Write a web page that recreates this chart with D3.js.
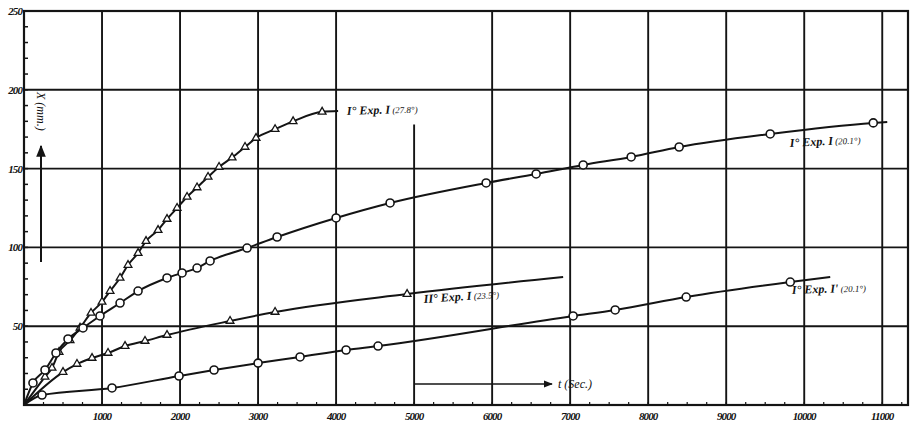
<!DOCTYPE html>
<html>
<head>
<meta charset="utf-8">
<script src="https://cdn.jsdelivr.net/npm/d3@7"></script>
<style>
  body { margin: 0; background: #fff; }
  text { font-family: "Liberation Serif", "DejaVu Serif", serif; fill: #111; }
</style>
</head>
<body>
<svg width="911" height="435"></svg>
<script>
// Tick labels
var xTicks = [1000, 2000, 3000, 4000, 5000, 6000, 7000, 8000, 9000, 10000, 11000];
var yTicks = [50, 100, 150, 200, 250];

// Curve I° Exp. I (27.8°) - triangles, steep
var aTime = [269, 359, 449, 590, 718, 859, 1000, 1103, 1231, 1333, 1462, 1564, 1718, 1833, 1962, 2090, 2218, 2359, 2500, 2667, 2833, 2974, 3218, 3449, 3821];
var aDist = [17.8, 23.5, 33.6, 41, 49, 58.4, 65.4, 72.3, 80.6, 88.8, 96.4, 104, 111, 118, 125, 132, 138, 144.7, 151, 157, 163.7, 169.4, 175, 180, 186];
var aEnd = [4026, 186.5];

// Curve I° Exp. I (20.1°) - circles, upper
var bTime = [115, 269, 410, 564, 756, 974, 1231, 1462, 1833, 2026, 2218, 2385, 2859, 3244, 4000, 4692, 5923, 6564, 7167, 7782, 8397, 9564, 10885];
var bDist = [14, 22.2, 33, 41.9, 48.9, 56.5, 64.7, 72.3, 80.6, 83.8, 86.9, 91.4, 99.6, 106.6, 118.7, 128.2, 140.9, 146.6, 152.3, 157.4, 163.7, 172, 179];
var bEnd = [11064, 179.6];

// Curve II° Exp. I (23.5°) - triangles, lower
var cTime = [500, 679, 872, 1077, 1295, 1551, 1833, 2641, 3218, 4910];
var cDist = [20.9, 26, 29.8, 33, 37.4, 40.6, 44.4, 53.3, 59, 70.4];
var cEnd = [6910, 81.2];

// Curve I° Exp. I' (20.1°) - circles, lower
var dTime = [231, 1128, 1987, 2436, 3000, 3538, 4128, 4538, 7038, 7577, 8487, 9821];
var dDist = [6.3, 10.8, 18.4, 22.2, 26.6, 30.5, 34.9, 37.4, 56.5, 60.3, 68.5, 78];
var dEnd = [10333, 81.2];

var svg = d3.select("svg");

var x = d3.scaleLinear().domain([0, 11330]).range([24, 908]);
var y = d3.scaleLinear().domain([0, 250]).range([405, 11]);

var ink = "#141414";

// the 5000 rule is broken off near the top in the print
var gridTop = {5000: 178};

// grid lines
svg.selectAll(".vgrid")
    .data(xTicks)
  .enter().append("line")
    .attr("x1", function(d) { return x(d); })
    .attr("x2", function(d) { return x(d); })
    .attr("y1", function(d) { return y(gridTop[d] || 250); })
    .attr("y2", y(0))
    .attr("stroke", ink)
    .attr("stroke-width", 1.9);

svg.selectAll(".hgrid")
    .data(yTicks)
  .enter().append("line")
    .attr("x1", x(0))
    .attr("x2", x(11330))
    .attr("y1", function(d) { return y(d); })
    .attr("y2", function(d) { return y(d); })
    .attr("stroke", ink)
    .attr("stroke-width", 1.9);

// frame
svg.append("rect")
    .attr("x", x(0))
    .attr("y", y(250))
    .attr("width", x(11330) - x(0))
    .attr("height", y(0) - y(250))
    .attr("fill", "none")
    .attr("stroke", ink)
    .attr("stroke-width", 2.2);

// minor ticks on the left axis and bottom axis
svg.selectAll(".ytick")
    .data(d3.range(10, 250, 10))
  .enter().append("line")
    .attr("x1", x(0))
    .attr("x2", x(0) + 4)
    .attr("y1", function(d) { return y(d); })
    .attr("y2", function(d) { return y(d); })
    .attr("stroke", ink)
    .attr("stroke-width", 1.5);

svg.selectAll(".xtick")
    .data(d3.range(250, 11330, 250))
  .enter().append("line")
    .attr("x1", function(d) { return x(d); })
    .attr("x2", function(d) { return x(d); })
    .attr("y1", y(0))
    .attr("y2", y(0) - 3)
    .attr("stroke", ink)
    .attr("stroke-width", 1.2);

// tick labels
svg.selectAll(".ylab")
    .data(yTicks)
  .enter().append("text")
    .attr("x", x(0) - 2)
    .attr("y", function(d) { return y(d) + 4; })
    .attr("text-anchor", "end")
    .attr("font-size", 11)
    .attr("font-weight", "bold")
    .attr("font-style", "italic")
    .attr("letter-spacing", -0.9)
    .text(function(d) { return d; });

svg.selectAll(".xlab")
    .data(xTicks)
  .enter().append("text")
    .attr("x", function(d) { return x(d); })
    .attr("y", y(0) + 15)
    .attr("text-anchor", "middle")
    .attr("font-size", 11)
    .attr("font-weight", "bold")
    .attr("font-style", "italic")
    .attr("letter-spacing", -0.9)
    .text(function(d) { return d; });

// curves
var line = d3.line()
    .x(function(d) { return x(d[0]); })
    .y(function(d) { return y(d[1]); })
    .curve(d3.curveMonotoneX);

function pts(t, v, end) {
  var p = [[0, 0]];
  t.forEach(function(d, i) { p.push([d, v[i]]); });
  p.push(end);
  return p;
}

var series = [
  {t: aTime, v: aDist, end: aEnd, mark: "tri"},
  {t: bTime, v: bDist, end: bEnd, mark: "circle"},
  {t: cTime, v: cDist, end: cEnd, mark: "tri"},
  {t: dTime, v: dDist, end: dEnd, mark: "circle"}
];

series.forEach(function(s) {
  svg.append("path")
      .datum(pts(s.t, s.v, s.end))
      .attr("d", line)
      .attr("fill", "none")
      .attr("stroke", ink)
      .attr("stroke-width", 2);

  var marks = s.t.map(function(d, i) { return [d, s.v[i]]; });
  if (s.mark === "circle") {
    svg.selectAll(null)
        .data(marks)
      .enter().append("circle")
        .attr("cx", function(d) { return x(d[0]); })
        .attr("cy", function(d) { return y(d[1]); })
        .attr("r", 4)
        .attr("fill", "#fff")
        .attr("stroke", ink)
        .attr("stroke-width", 1.6);
  } else {
    svg.selectAll(null)
        .data(marks)
      .enter().append("path")
        .attr("d", d3.symbol().type(d3.symbolTriangle).size(26))
        .attr("transform", function(d) { return "translate(" + x(d[0]) + "," + y(d[1]) + ")"; })
        .attr("fill", "#fff")
        .attr("stroke", ink)
        .attr("stroke-width", 1.3);
  }
});

// curve labels
var labels = [
  {px: 347, py: 115, rot: -2, main: "I° Exp. I", sub: " (27.8°)"},
  {px: 790, py: 147, rot: -3, main: "I° Exp. I", sub: " (20.1°)"},
  {px: 424, py: 303, rot: -4, main: "II° Exp. I", sub: " (23.5°)"},
  {px: 792, py: 294, rot: -2, main: "I° Exp. I'", sub: " (20.1°)"}
];

labels.forEach(function(l) {
  var t = svg.append("text")
      .attr("transform", "translate(" + l.px + "," + l.py + ") rotate(" + l.rot + ")")
      .attr("font-size", 12)
      .attr("font-style", "italic")
      .attr("font-weight", "bold");
  t.append("tspan").text(l.main);
  t.append("tspan").attr("font-size", 9).attr("font-weight", "normal").text(l.sub);
});

// axis titles with arrows
svg.append("defs").append("marker")
    .attr("id", "head")
    .attr("viewBox", "0 0 10 10")
    .attr("refX", 9)
    .attr("refY", 5)
    .attr("markerWidth", 6)
    .attr("markerHeight", 6)
    .attr("orient", "auto")
  .append("path")
    .attr("d", "M0,1 L10,5 L0,9 Z")
    .attr("fill", ink);

svg.append("line")
    .attr("x1", 41).attr("y1", 262)
    .attr("x2", 41).attr("y2", 146)
    .attr("stroke", ink)
    .attr("stroke-width", 2)
    .attr("marker-end", "url(#head)");

svg.append("text")
    .attr("transform", "translate(37,92) rotate(90)")
    .attr("font-size", 12)
    .attr("font-style", "italic")
    .text("X (mm.)");

svg.append("line")
    .attr("x1", 415).attr("y1", 384)
    .attr("x2", 552).attr("y2", 384)
    .attr("stroke", ink)
    .attr("stroke-width", 1.5)
    .attr("marker-end", "url(#head)");

svg.append("text")
    .attr("x", 558)
    .attr("y", 388)
    .attr("font-size", 12)
    .attr("font-style", "italic")
    .text("t (Sec.)");
</script>
</body>
</html>
